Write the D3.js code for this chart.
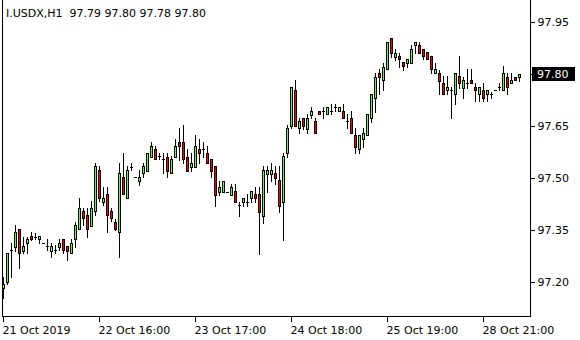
<!DOCTYPE html>
<html>
<head>
<meta charset="utf-8">
<script src="https://cdn.jsdelivr.net/npm/d3@7"></script>
<style>
  html, body { margin: 0; padding: 0; background: #fff; }
  svg { display: block; }
  text { font-family: "DejaVu Sans", sans-serif; font-size: 11px; fill: #000; }
</style>
</head>
<body>
<div id="chart"></div>
<script>
// I.USDX H1 candles
const symbol = "I.USDX,H1";
const open = [97.182,97.201,97.292,97.302,97.352,97.290,97.312,97.333,97.331,97.323,
  97.312,97.304,97.290,97.292,97.302,97.323,97.304,97.283,97.323,97.352,
  97.405,97.392,97.362,97.405,97.523,97.432,97.454,97.405,97.372,97.343,
  97.502,97.441,97.533,97.502,97.492,97.514,97.521,97.561,97.583,97.563,
  97.554,97.561,97.514,97.561,97.603,97.603,97.561,97.533,97.533,97.583,
  97.583,97.571,97.554,97.535,97.460,97.460,97.460,97.452,97.463,97.421,
  97.432,97.432,97.441,97.453,97.453,97.391,97.511,97.511,97.514,97.494,
  97.432,97.571,97.651,97.753,97.643,97.672,97.641,97.682,97.664,97.693,
  97.693,97.684,97.693,97.704,97.693,97.693,97.664,97.672,97.623,97.584,
  97.612,97.623,97.672,97.732,97.802,97.783,97.814,97.903,97.850,97.852,
  97.835,97.833,97.833,97.883,97.884,97.871,97.863,97.852,97.802,97.804,
  97.773,97.754,97.754,97.741,97.794,97.760,97.773,97.783,97.763,97.741,
  97.754,97.741,97.741,97.754,97.763,97.754,97.792,97.773,97.792,97.790];
const high = [97.215,97.283,97.312,97.364,97.352,97.331,97.331,97.343,97.340,97.333,
  97.312,97.324,97.312,97.307,97.323,97.323,97.304,97.324,97.374,97.441,
  97.413,97.413,97.434,97.542,97.535,97.473,97.473,97.413,97.382,97.542,
  97.573,97.535,97.542,97.502,97.523,97.542,97.571,97.605,97.592,97.573,
  97.573,97.571,97.563,97.612,97.643,97.653,97.583,97.571,97.624,97.612,
  97.605,97.592,97.554,97.535,97.492,97.492,97.460,97.483,97.483,97.432,
  97.441,97.453,97.463,97.473,97.473,97.535,97.535,97.542,97.535,97.535,
  97.571,97.653,97.762,97.783,97.672,97.672,97.685,97.704,97.672,97.693,
  97.704,97.704,97.713,97.713,97.704,97.713,97.685,97.693,97.643,97.623,
  97.643,97.684,97.741,97.802,97.814,97.831,97.891,97.903,97.871,97.861,
  97.835,97.842,97.884,97.892,97.892,97.871,97.863,97.852,97.833,97.812,
  97.794,97.794,97.763,97.802,97.852,97.792,97.814,97.814,97.773,97.763,
  97.773,97.754,97.749,97.754,97.773,97.823,97.802,97.802,97.792,97.800];
const low = [97.153,97.194,97.214,97.290,97.241,97.283,97.283,97.321,97.323,97.312,
  97.312,97.292,97.271,97.283,97.292,97.283,97.263,97.283,97.302,97.352,
  97.364,97.331,97.362,97.393,97.434,97.422,97.343,97.377,97.350,97.271,
  97.454,97.441,97.523,97.502,97.480,97.502,97.521,97.561,97.554,97.554,
  97.514,97.502,97.514,97.561,97.552,97.542,97.521,97.521,97.533,97.542,
  97.561,97.542,97.502,97.419,97.451,97.460,97.460,97.452,97.432,97.390,
  97.419,97.419,97.432,97.432,97.281,97.371,97.460,97.492,97.482,97.403,
  97.321,97.561,97.643,97.651,97.631,97.641,97.631,97.672,97.631,97.684,
  97.672,97.684,97.684,97.693,97.693,97.672,97.643,97.631,97.571,97.571,
  97.590,97.623,97.662,97.691,97.741,97.754,97.814,97.850,97.840,97.821,
  97.812,97.821,97.833,97.861,97.861,97.842,97.842,97.802,97.802,97.741,
  97.741,97.741,97.672,97.713,97.760,97.732,97.760,97.773,97.722,97.722,
  97.722,97.722,97.732,97.754,97.754,97.754,97.741,97.773,97.783,97.780];
const close = [97.194,97.283,97.292,97.343,97.283,97.304,97.323,97.323,97.331,97.333,
  97.312,97.304,97.304,97.292,97.313,97.292,97.290,97.312,97.364,97.413,
  97.384,97.352,97.413,97.535,97.441,97.441,97.392,97.384,97.352,97.514,
  97.454,97.523,97.533,97.502,97.502,97.535,97.571,97.592,97.554,97.563,
  97.554,97.521,97.554,97.592,97.592,97.554,97.521,97.542,97.592,97.571,
  97.583,97.542,97.521,97.452,97.473,97.492,97.460,97.473,97.432,97.421,
  97.441,97.432,97.463,97.441,97.403,97.523,97.523,97.523,97.501,97.420,
  97.563,97.643,97.762,97.651,97.664,97.651,97.672,97.693,97.631,97.684,
  97.693,97.704,97.693,97.704,97.704,97.672,97.664,97.631,97.590,97.623,
  97.631,97.684,97.741,97.792,97.792,97.821,97.891,97.861,97.861,97.842,
  97.823,97.842,97.871,97.892,97.861,97.852,97.842,97.814,97.814,97.781,
  97.741,97.763,97.754,97.802,97.773,97.783,97.773,97.773,97.754,97.763,
  97.732,97.754,97.741,97.754,97.763,97.802,97.763,97.783,97.783,97.800];

const timeTickBars = [0, 24, 48, 72, 96, 120];
const timeTickLabels = ["21 Oct 2019", "22 Oct 16:00", "23 Oct 17:00", "24 Oct 18:00", "25 Oct 19:00", "28 Oct 21:00"];
const priceTicks = [97.20, 97.35, 97.50, 97.65, 97.80, 97.95];

const W = 580, H = 340;
const left = 2, right = 530, bottom = 316;
const barStep = 4;
const bullColor = "#7cfc00", bearColor = "#f00000";

const n = open.length;
const candles = d3.range(n).map(i => ({ i, o: open[i], h: high[i], l: low[i], c: close[i] }));

const x = d3.scaleLinear().domain([0, n - 1]).range([3, 3 + barStep * (n - 1)]);
const y = d3.scaleLinear().domain([97.20, 97.95]).range([282, 22]);
const py = v => Math.round(y(v));

const svg = d3.select("#chart").append("svg")
  .attr("width", W).attr("height", H)
  .attr("shape-rendering", "crispEdges");

// frame
svg.append("path")
  .attr("d", `M${left + 0.5},0V${bottom + 0.5}H${right + 0.5}V0`)
  .attr("fill", "none").attr("stroke", "#000");

// price axis on the right
const yAxis = svg.append("g")
  .attr("transform", `translate(${right + 0.5},0)`)
  .call(d3.axisRight(y).tickValues(priceTicks).tickSize(4).tickPadding(3).tickFormat(d3.format(".2f")));
yAxis.select(".domain").remove();
yAxis.selectAll("text").attr("font-family", null).attr("font-size", null).attr("fill", "#000");

// time axis
const xAxis = svg.append("g")
  .attr("transform", `translate(0,${bottom + 0.5})`)
  .call(d3.axisBottom(x).tickValues(timeTickBars).tickSize(5).tickPadding(5)
    .tickFormat((d, k) => timeTickLabels[k]));
xAxis.select(".domain").remove();
xAxis.selectAll("text").attr("text-anchor", "start").attr("x", -1)
  .attr("font-family", null).attr("font-size", null).attr("fill", "#000");

// candles
const g = svg.append("g");
const cg = g.selectAll("g.candle").data(candles).join("g").attr("class", "candle");

cg.append("line")
  .attr("x1", d => Math.round(x(d.i)) + 0.5)
  .attr("x2", d => Math.round(x(d.i)) + 0.5)
  .attr("y1", d => py(d.h))
  .attr("y2", d => py(d.l) + 1)
  .attr("stroke", "#000");

cg.each(function (d) {
  const cx = Math.round(x(d.i));
  const top = py(Math.max(d.o, d.c)), bot = py(Math.min(d.o, d.c));
  const sel = d3.select(this);
  if (bot - top < 1) {
    sel.append("line")
      .attr("x1", cx - 1).attr("x2", cx + 2)
      .attr("y1", top + 0.5).attr("y2", top + 0.5)
      .attr("stroke", "#000");
  } else {
    sel.append("rect")
      .attr("x", cx - 0.5).attr("y", top + 0.5)
      .attr("width", 2).attr("height", bot - top)
      .attr("fill", d.c >= d.o ? bullColor : bearColor)
      .attr("stroke", "#000");
  }
});

// last price box
const last = close[n - 1];
const ly = py(last);
svg.append("rect")
  .attr("x", right + 2).attr("y", ly - 7)
  .attr("width", 43).attr("height", 14)
  .attr("fill", "#000");
svg.append("text")
  .attr("x", right + 7).attr("y", ly + 4)
  .style("fill", "#fff")
  .text(d3.format(".2f")(last));

// header
const f2 = d3.format(".2f");
svg.append("text")
  .attr("x", 6).attr("y", 17)
  .attr("xml:space", "preserve")
  .text(`${symbol}  ${f2(open[n - 1])} ${f2(high[n - 1])} ${f2(low[n - 1])} ${f2(close[n - 1])}`);
</script>
</body>
</html>
